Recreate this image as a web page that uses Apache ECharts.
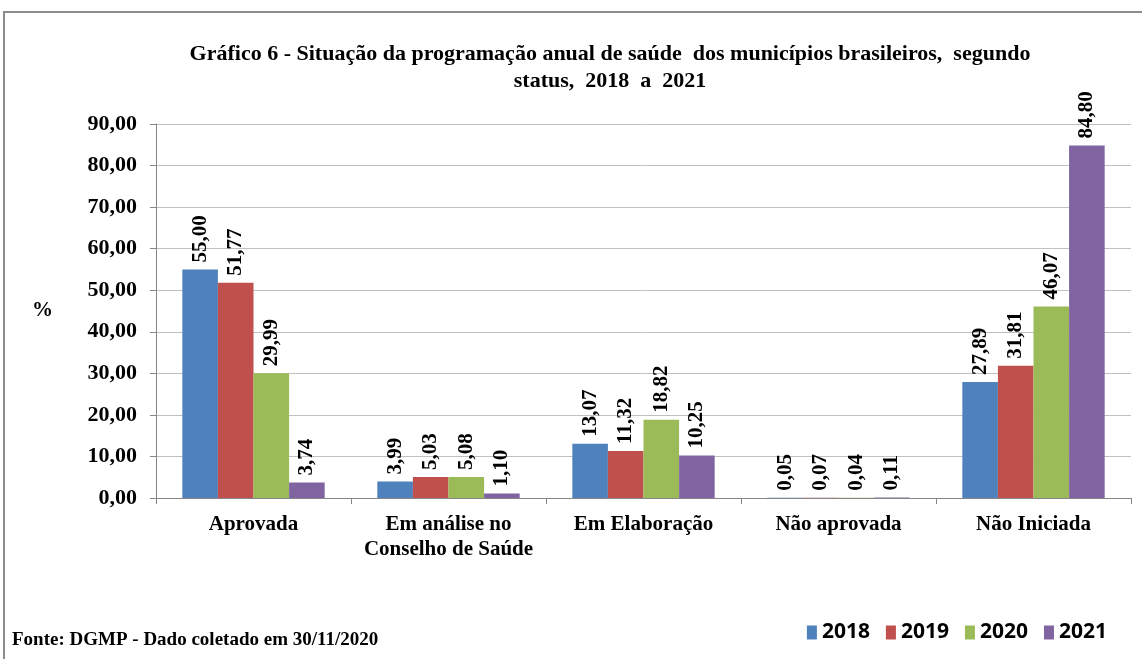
<!DOCTYPE html>
<html>
<head>
<meta charset="utf-8">
<script src="https://cdn.jsdelivr.net/npm/echarts@6/dist/echarts.min.js"></script>
<style>
  html, body { margin: 0; padding: 0; background: #fff; }
  #chart { width: 1142px; height: 659px; }
</style>
</head>
<body>
<div id="chart"></div>
<script>
// Data
var categories = ["Aprovada", "Em análise no\nConselho de Saúde", "Em Elaboração", "Não aprovada", "Não Iniciada"];
var years = ["2018", "2019", "2020", "2021"];
var values2018 = [55.00, 3.99, 13.07, 0.05, 27.89];
var values2019 = [51.77, 5.03, 11.32, 0.07, 31.81];
var values2020 = [29.99, 5.08, 18.82, 0.04, 46.07];
var values2021 = [3.74, 1.10, 10.25, 0.11, 84.80];
var yTicks = [0, 10, 20, 30, 40, 50, 60, 70, 80, 90];

var colors = ["#4F81BD", "#C0504D", "#9BBB59", "#8064A2"];
var serif = "'Liberation Serif', 'DejaVu Serif', serif";

function fmt(v) {
  return v.toFixed(2).replace(".", ",");
}

function makeSeries(name, data, color) {
  return {
    name: name,
    type: "bar",
    data: data,
    barGap: "0%",
    barCategoryGap: "27%",
    itemStyle: { color: color },
    label: {
      show: true,
      position: "top",
      rotate: 90,
      align: "left",
      verticalAlign: "middle",
      distance: 7,
      fontFamily: serif,
      fontWeight: "bold",
      fontSize: 21,
      color: "#000",
      formatter: function (p) { return fmt(p.value); }
    }
  };
}

var chart = echarts.init(document.getElementById("chart"));

chart.setOption({
  animation: false,
  title: {
    text: "Gráfico 6 - Situação da programação anual de saúde  dos municípios brasileiros,  segundo\nstatus,  2018  a  2021",
    left: 605,
    top: 36,
    textAlign: "center",
    textStyle: {
      fontFamily: serif,
      fontWeight: "bold",
      fontSize: 22,
      lineHeight: 27,
      color: "#000"
    }
  },
  legend: {
    data: years,
    right: 30,
    top: 617,
    itemWidth: 10,
    itemHeight: 14,
    itemGap: 16,
    icon: "rect",
    textStyle: {
      fontFamily: "'Open Sans', 'DejaVu Sans', sans-serif",
      fontWeight: "bold",
      fontSize: 21,
      color: "#000"
    }
  },
  grid: {
    left: 156,
    right: 11,
    top: 124,
    bottom: 161,
    containLabel: false
  },
  xAxis: {
    type: "category",
    data: categories,
    axisLine: { lineStyle: { color: "#868686" } },
    axisTick: { show: true, length: 6, lineStyle: { color: "#868686" } },
    axisLabel: {
      margin: 14,
      fontFamily: serif,
      fontWeight: "bold",
      fontSize: 21,
      lineHeight: 25,
      color: "#000",
      interval: 0
    }
  },
  yAxis: {
    type: "value",
    min: yTicks[0],
    max: yTicks[yTicks.length - 1],
    interval: 10,
    name: "%",
    nameLocation: "middle",
    nameRotate: 0,
    nameGap: 103,
    nameTextStyle: {
      fontFamily: serif,
      fontWeight: "bold",
      fontSize: 21,
      color: "#000"
    },
    axisLine: { show: true, lineStyle: { color: "#868686" } },
    axisTick: { show: true, length: 6, lineStyle: { color: "#868686" } },
    splitLine: { lineStyle: { color: "#c0c0c0" } },
    axisLabel: {
      margin: 19,
      fontFamily: serif,
      fontWeight: "bold",
      fontSize: 22,
      color: "#000",
      formatter: function (v) { return fmt(v); }
    }
  },
  graphic: [
    {
      type: "rect",
      shape: { x: 4, y: 12, width: 1150, height: 660 },
      style: { fill: "none", stroke: "#8c8c8c", lineWidth: 2 }
    },
    {
      type: "text",
      left: 12,
      top: 631,
      style: {
        text: "Fonte: DGMP - Dado coletado em 30/11/2020",
        fontFamily: serif,
        fontWeight: "bold",
        fontSize: 19,
        fill: "#000"
      }
    }
  ],
  series: [
    makeSeries(years[0], values2018, colors[0]),
    makeSeries(years[1], values2019, colors[1]),
    makeSeries(years[2], values2020, colors[2]),
    makeSeries(years[3], values2021, colors[3])
  ]
});
</script>
</body>
</html>
